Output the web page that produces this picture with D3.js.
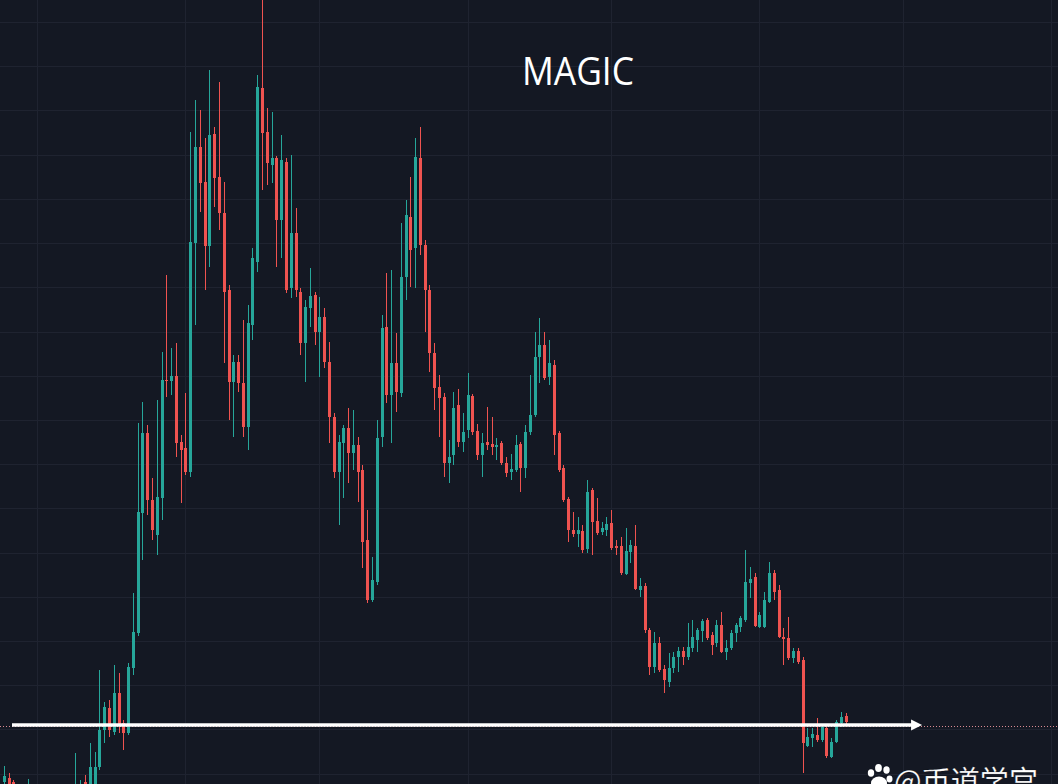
<!DOCTYPE html>
<html>
<head>
<meta charset="utf-8">
<script src="https://cdn.jsdelivr.net/npm/d3@7"></script>
<style>
html,body{margin:0;padding:0;background:#141823;overflow:hidden;}
svg{display:block;}
</style>
</head>
<body>
<svg id="chart" width="1058" height="784"></svg>
<script>
// ---- DATA (daily MAGIC candles, price units) ----
const firstDay = "2022-12-25";
const open  = [218,222,218,210,200,194,208,195,185,192,180,188,195,186,194,200,208,218,202,210,233,270,292,268,307,277,267,332,367,487,567,500,465,502,620,619,624,558,552,528,757,853,818,754,866,823,787,710,618,638,617,573,675,738,912,868,835,842,780,838,712,767,708,657,692,705,668,683,638,583,528,557,572,547,555,530,460,400,418,563,673,605,637,607,723,783,752,842,755,710,647,613,603,537,545,595,558,570,604,569,545,558,556,553,557,537,528,530,556,532,568,585,643,655,623,635,567,532,501,470,466,469,451,510,479,468,470,477,454,454,426,448,454,410,414,370,333,357,331,318,332,343,349,343,352,360,369,380,365,357,375,348,352,367,373,380,417,423,373,373,398,427,410,363,362,342,349,340,254,262,265,260,272,243,258,277,284];
const high  = [234,227,220,214,205,221,212,200,200,198,195,204,202,205,210,247,220,225,257,248,330,298,300,335,327,280,337,407,577,598,575,522,600,648,725,652,657,565,607,868,900,890,862,930,873,918,818,715,645,645,680,695,752,925,1000,892,888,844,865,842,845,792,712,700,732,708,703,692,658,587,565,575,592,590,563,535,490,443,580,685,727,730,667,777,800,823,862,873,760,715,657,625,607,560,608,611,587,627,606,576,567,593,583,562,559,543,546,565,558,575,625,668,682,668,660,640,569,535,503,488,483,475,520,512,502,478,483,490,460,463,472,460,475,422,417,372,368,363,335,347,348,353,353,377,380,372,381,382,368,380,388,360,370,377,384,450,433,427,388,408,438,430,415,372,383,352,352,343,272,272,282,275,275,262,280,288,287];
const low   = [210,208,205,195,188,190,190,180,178,174,175,182,180,182,188,195,204,200,195,205,230,257,263,265,267,250,265,325,364,440,485,460,445,480,603,605,543,497,525,523,675,788,710,733,793,770,637,580,563,608,563,550,660,728,810,815,817,733,742,707,702,703,645,618,673,655,623,632,557,522,475,502,517,530,498,432,397,398,415,553,597,557,588,603,700,713,712,745,668,628,590,563,523,517,535,553,548,562,565,540,523,550,545,540,535,523,520,528,508,522,565,583,617,620,615,545,528,498,458,463,453,447,447,445,465,465,464,450,445,425,425,437,410,403,367,325,327,328,307,313,327,328,335,340,348,348,358,360,345,353,347,340,350,358,368,378,402,373,372,372,397,400,362,335,340,337,336,227,253,253,258,258,242,242,257,273,273];
const close = [224,214,210,200,192,208,195,185,192,180,188,195,186,194,200,212,215,205,233,233,270,293,270,307,275,267,333,368,488,567,500,470,503,620,619,624,557,550,528,758,853,817,754,865,822,787,708,618,638,617,573,677,742,913,867,837,842,780,840,710,767,710,657,693,704,668,683,638,583,528,558,572,547,555,528,458,400,420,562,672,605,637,608,723,785,750,843,755,710,647,612,602,537,543,592,558,568,605,568,545,557,555,553,555,537,527,531,555,532,568,585,643,655,622,637,565,530,500,470,466,470,450,508,478,467,472,476,452,452,427,449,455,411,414,370,333,357,330,320,332,343,349,343,353,363,370,379,362,355,375,348,352,367,375,382,418,421,374,385,400,427,408,363,361,342,349,338,257,263,266,260,273,244,258,278,283,278];
// horizontal price grid levels and month-start grid dates
const priceGrid = [978,934,890,845,801,757,713,668,624,580,536,492,447,403,359,315,271,226];
const monthStarts = ["2023-01-01","2023-02-01","2023-03-01","2023-04-01","2023-05-01","2023-06-01","2023-07-01","2023-08-01"];
// support level annotation
const supportLevel = 275;
const priceLineLevel = 274;
const arrowStart = "2022-12-26T17:30:00Z";
const arrowEnd = "2023-07-05T00:00:00Z";
const title = "MAGIC";
const watermark = "@币道学宫";

// ---- CHART ----
const W = 1058, H = 784;
const svg = d3.select("#chart");
const parse = s => new Date(s.length === 10 ? s + "T00:00:00Z" : s);
const start = parse(firstDay);
const dates = open.map((_, i) => d3.utcDay.offset(start, i));
const data = dates.map((d, i) => ({date: d, o: open[i], h: high[i], l: low[i], c: close[i]}));

const x = d3.scaleUtc()
  .domain([start, parse("2023-08-01")])
  .range([3.74, 3.74 + 219 * 4.783]);
const y = d3.scaleLinear().domain([216, 1000]).range([H, 0]);

svg.append("rect").attr("width", W).attr("height", H).attr("fill", "#141823");

// grid
const grid = svg.append("g").attr("shape-rendering", "crispEdges");
grid.selectAll("line.h").data(priceGrid).join("line")
  .attr("x1", 0).attr("x2", W)
  .attr("y1", d => Math.round(y(d)) + 0.5).attr("y2", d => Math.round(y(d)) + 0.5)
  .attr("stroke", "#1f2330").attr("stroke-width", 1);
grid.selectAll("line.v").data(monthStarts.map(parse)).join("line")
  .attr("y1", 0).attr("y2", H)
  .attr("x1", d => Math.round(x(d)) + 0.5).attr("x2", d => Math.round(x(d)) + 0.5)
  .attr("stroke", "#1f2330").attr("stroke-width", 1);

// title
svg.append("text").attr("x", 578).attr("y", 85)
  .attr("text-anchor", "middle")
  .attr("font-family", "'Open Sans', 'Noto Sans', sans-serif")
  .attr("font-size", 38).attr("font-weight", 500)
  .attr("textLength", 112).attr("lengthAdjust", "spacingAndGlyphs")
  .attr("fill", "#ffffff").text(title);

// price line (dotted)
svg.append("line")
  .attr("x1", 0).attr("x2", W)
  .attr("y1", y(priceLineLevel) + 0.5).attr("y2", y(priceLineLevel) + 0.5)
  .attr("stroke", "#d98a92").attr("stroke-width", 1).attr("stroke-dasharray", "1,2");

// candles
const up = "#26a69a", down = "#ef5350";
const g = svg.append("g").attr("shape-rendering", "crispEdges");
const candle = g.selectAll("g.c").data(data).join("g");
candle.append("line")
  .attr("x1", d => Math.round(x(d.date)) + 0.5)
  .attr("x2", d => Math.round(x(d.date)) + 0.5)
  .attr("y1", d => y(d.h)).attr("y2", d => y(d.l))
  .attr("stroke", d => d.c >= d.o ? up : down).attr("stroke-width", 1);
candle.append("rect")
  .attr("x", d => Math.round(x(d.date)) - 1)
  .attr("width", 3)
  .attr("y", d => y(Math.max(d.o, d.c)))
  .attr("height", d => Math.max(1, Math.abs(y(d.o) - y(d.c))))
  .attr("fill", d => d.c >= d.o ? up : down);

// white arrow
const ay = y(supportLevel);
const ax1 = x(parse(arrowStart)), ax2 = x(parse(arrowEnd));
svg.append("line")
  .attr("x1", ax1).attr("x2", ax2 - 9)
  .attr("y1", ay).attr("y2", ay)
  .attr("stroke", "#ffffff").attr("stroke-width", 3.5);
svg.append("path")
  .attr("d", `M${ax2},${ay} L${ax2 - 11},${ay - 5.5} L${ax2 - 11},${ay + 5.5} Z`)
  .attr("fill", "#ffffff");

// watermark
const wm = svg.append("g");
const paw = wm.append("g").attr("fill", "#ffffff");
[[871,773,3.2],[878.5,768,3.4],[886.5,770,3.2],[889.5,779,3]].forEach(p =>
  paw.append("ellipse").attr("cx", p[0]).attr("cy", p[1]).attr("rx", p[2]).attr("ry", p[2] * 1.15));
paw.append("ellipse").attr("cx", 879).attr("cy", 783).attr("rx", 8).attr("ry", 6.5);
wm.append("text").attr("x", 894).attr("y", 792)
  .attr("font-family", "'Noto Sans CJK SC', sans-serif")
  .attr("font-size", 30)
  .attr("fill", "#ffffff")
  .attr("stroke", "rgba(0,0,0,0.35)").attr("stroke-width", 0.6)
  .attr("textLength", 144).attr("lengthAdjust", "spacingAndGlyphs")
  .text(watermark);
</script>
</body>
</html>
